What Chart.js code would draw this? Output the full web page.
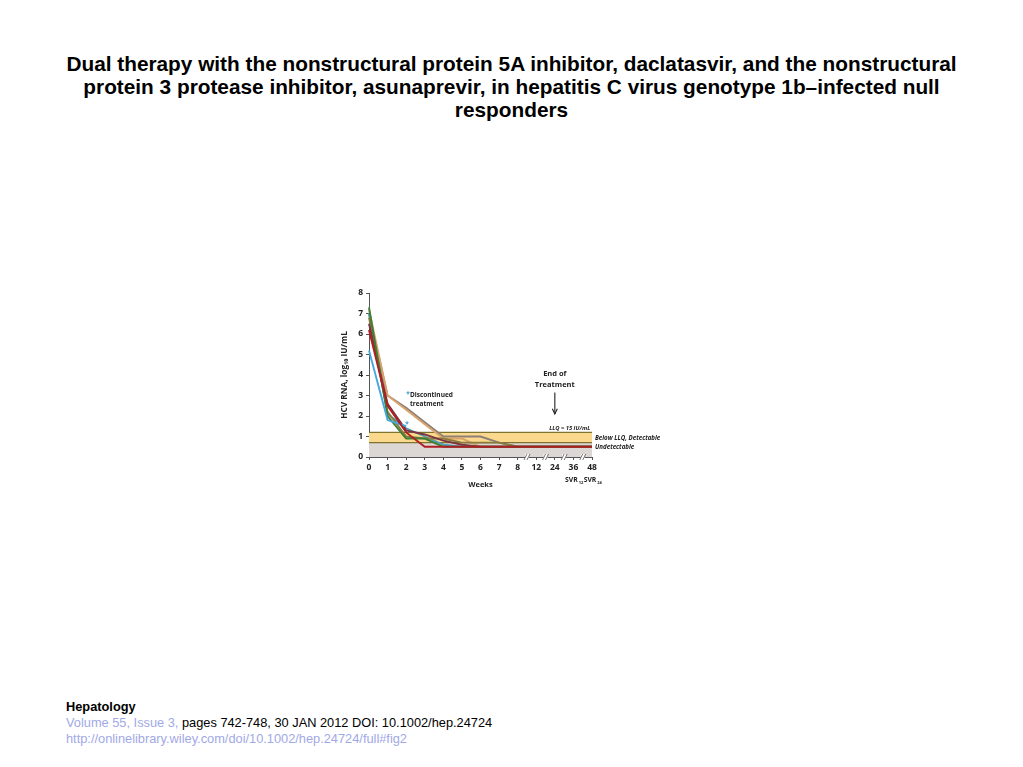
<!DOCTYPE html>
<html>
<head>
<meta charset="utf-8">
<script src="https://cdn.jsdelivr.net/npm/chart.js@4/dist/chart.umd.min.js"></script>
<style>
  body { margin: 0; width: 1023px; height: 767px; background: #fff; position: relative; font-family: "Liberation Sans", Arial, sans-serif; }
  .title { position: absolute; top: 52px; left: 0; width: 1023px; text-align: center; font-weight: bold; font-size: 20.8px; line-height: 23px; color: #000; }
  .chartbox { position: absolute; left: 340px; top: 283px; width: 325px; height: 210px; }
  .foot { position: absolute; left: 66px; top: 699px; font-size: 12.8px; line-height: 16px; color: #000; }
  .foot .j { font-weight: bold; }
  .foot .lnk { color: #9fa9e6; }
</style>
</head>
<body>
<div class="title">Dual therapy with the nonstructural protein 5A inhibitor, daclatasvir, and the nonstructural<br>protein 3 protease inhibitor, asunaprevir, in hepatitis C virus genotype 1b–infected null<br>responders</div>
<div class="chartbox"><canvas id="c" width="325" height="210"></canvas></div>
<div class="foot">
  <div class="j">Hepatology</div>
  <div><span class="lnk">Volume 55, Issue 3,</span> pages 742-748, 30 JAN 2012 DOI: 10.1002/hep.24724</div>
  <div class="lnk">http://onlinelibrary.wiley.com/doi/10.1002/hep.24724/full#fig2</div>
</div>
<script>
// week axis (uneven, drawn evenly spaced)
const weekLabels = ['0', '1', '2', '3', '4', '5', '6', '7', '8', '12', '24', '36', '48'];
const yTicks = [0, 1, 2, 3, 4, 5, 6, 7, 8];

// HCV RNA, log10 IU/mL per patient
const ptBlue   = [5.2, 1.8, 1.5, null, null, null, null, null, null, null, null, null, null];
const ptTan    = [7.2, 3.0, 2.3, 1.6, 0.9, 0.9, 0.5, 0.5, 0.5, 0.5, 0.5, 0.5, 0.5];
const ptGrey   = [7.0, 3.0, 2.4, 1.7, 1.0, 1.0, 1.0, 0.7, 0.5, 0.5, 0.5, 0.5, 0.5];
const ptTeal   = [7.0, 2.1, 1.4, 1.0, 0.6, 0.5, 0.5, 0.5, 0.5, 0.5, 0.5, 0.5, 0.5];
const ptOlive  = [6.8, 2.2, 1.0, 0.9, 0.9, 0.7, 0.7, 0.7, 0.5, 0.5, 0.5, 0.5, 0.5];
const ptMaroon = [6.5, 2.6, 1.3, 1.1, 0.8, 0.6, 0.5, 0.5, 0.5, 0.5, 0.5, 0.5, 0.5];
const ptGreen  = [7.3, 2.0, 0.9, 0.9, 0.5, 0.5, 0.5, 0.5, 0.5, 0.5, 0.5, 0.5, 0.5];
const ptRed    = [6.2, 2.5, 1.2, 0.5, 0.5, 0.5, 0.5, 0.5, 0.5, 0.5, 0.5, 0.5, 0.5];

const llq = 1.2;
const detectLow = 0.7;

const fnt = '"Open Sans", "Liberation Sans", sans-serif';

const bands = {
  id: 'bands',
  beforeDatasetsDraw(chart) {
    const { ctx, scales: { x, y } } = chart;
    const x0 = x.getPixelForValue(0), x1 = x.getPixelForValue(weekLabels.length - 1);
    ctx.save();
    ctx.fillStyle = '#fbd98c';
    ctx.fillRect(x0, y.getPixelForValue(llq), x1 - x0, y.getPixelForValue(detectLow) - y.getPixelForValue(llq));
    ctx.fillStyle = '#dcd6d4';
    ctx.fillRect(x0, y.getPixelForValue(detectLow), x1 - x0, y.getPixelForValue(0) - y.getPixelForValue(detectLow));
    ctx.strokeStyle = '#7f7332';
    ctx.lineWidth = 1.3;
    [llq, detectLow].forEach(v => {
      ctx.beginPath();
      ctx.moveTo(x0, y.getPixelForValue(v));
      ctx.lineTo(x1, y.getPixelForValue(v));
      ctx.stroke();
    });
    ctx.restore();
  },
  afterDraw(chart) {
    const { ctx, scales: { x, y } } = chart;
    ctx.save();
    // axis breaks
    ctx.strokeStyle = '#555';
    ctx.lineWidth = 0.8;
    [8.5, 9.5, 10.5, 11.5].forEach(i => {
      const px = x.getPixelForValue(i), py = y.getPixelForValue(0);
      ctx.fillStyle = '#fff';
      ctx.fillRect(px - 2, py - 3, 4, 6);
      [-1.5, 1.5].forEach(d => {
        ctx.beginPath();
        ctx.moveTo(px + d - 1.5, py + 3);
        ctx.lineTo(px + d + 1.5, py - 3);
        ctx.stroke();
      });
    });
    ctx.fillStyle = '#222';
    // end of treatment
    const ex = x.getPixelForValue(10);
    ctx.font = 'bold 7.5px ' + fnt;
    ctx.textAlign = 'center';
    ctx.fillText('End of', ex, y.getPixelForValue(3.95));
    ctx.fillText('Treatment', ex, y.getPixelForValue(3.4));
    ctx.strokeStyle = '#222';
    ctx.lineWidth = 1.1;
    ctx.beginPath();
    ctx.moveTo(ex, y.getPixelForValue(3.15));
    ctx.lineTo(ex, y.getPixelForValue(2.1));
    ctx.stroke();
    ctx.beginPath();
    ctx.moveTo(ex - 2.5, y.getPixelForValue(2.35));
    ctx.lineTo(ex, y.getPixelForValue(2.1));
    ctx.lineTo(ex + 2.5, y.getPixelForValue(2.35));
    ctx.stroke();
    // discontinued note
    ctx.textAlign = 'left';
    ctx.font = 'bold 6.5px ' + fnt;
    ctx.fillText('Discontinued', x.getPixelForValue(2.2), y.getPixelForValue(2.95));
    ctx.fillText('treatment', x.getPixelForValue(2.2), y.getPixelForValue(2.5));
    ctx.fillStyle = '#3a9bd5';
    ctx.fillText('*', x.getPixelForValue(2.0), y.getPixelForValue(3.0));
    ctx.fillText('*', x.getPixelForValue(2.0) - 1, y.getPixelForValue(1.5));
    // band labels
    ctx.fillStyle = '#222';
    ctx.font = 'italic bold 5.8px ' + fnt;
    ctx.textAlign = 'right';
    ctx.fillText('LLQ = 15 IU/mL', x.getPixelForValue(11.9), y.getPixelForValue(1.3));
    ctx.font = 'italic bold 6.2px ' + fnt;
    ctx.textAlign = 'left';
    const rx = x.getPixelForValue(12) + 3;
    ctx.fillText('Below LLQ, Detectable', rx, y.getPixelForValue(0.85));
    ctx.fillText('Undetectable', rx, y.getPixelForValue(0.4));
    // SVR labels
    ctx.textAlign = 'center';
    const sy = y.getPixelForValue(0) + 25;
    [[11, '12'], [12, '24']].forEach(([i, sub]) => {
      const px = x.getPixelForValue(i);
      ctx.font = 'bold 6.8px ' + fnt;
      ctx.fillText('SVR', px - 2, sy);
      ctx.font = 'bold 4px ' + fnt;
      ctx.fillText(sub, px + 7.5, sy + 1.5);
    });
    ctx.restore();
  }
};

const mk = (data, color) => ({
  data, borderColor: color, borderWidth: 1.9, pointRadius: 0, fill: false, tension: 0
});

const axisGrid = { display: true, drawOnChartArea: false, tickLength: 3, color: '#555' };

// first dataset is drawn on top
new Chart(document.getElementById('c'), {
  type: 'line',
  data: {
    labels: weekLabels,
    datasets: [
      mk(ptRed, '#b01e24'),
      mk(ptBlue, '#47a8dd'),
      mk(ptGreen, '#3d7f36'),
      mk(ptMaroon, '#7b3444'),
      mk(ptOlive, '#8a7c3c'),
      mk(ptTeal, '#4d9fb5'),
      mk(ptTan, '#dba36a'),
      mk(ptGrey, '#8c7f78')
    ]
  },
  plugins: [bands],
  options: {
    responsive: false,
    animation: false,
    layout: { padding: { top: 10, right: 73, left: 0, bottom: 0 } },
    plugins: { legend: { display: false }, tooltip: { enabled: false } },
    scales: {
      x: {
        type: 'category',
        offset: false,
        grid: axisGrid,
        border: { color: '#555', width: 1 },
        ticks: { color: '#222', font: { family: fnt, size: 8.5, weight: 'bold' }, padding: 2, maxRotation: 0, autoSkip: false },
        title: { display: true, text: 'Weeks', color: '#222', font: { family: fnt, size: 7.5, weight: 'bold' }, padding: { top: 2 } },
        afterFit(s) { s.height = 36; }
      },
      y: {
        min: 0, max: 8,
        afterBuildTicks(s) { s.ticks = yTicks.map(v => ({ value: v })); },
        grid: axisGrid,
        border: { color: '#555', width: 1 },
        ticks: { color: '#222', font: { family: fnt, size: 8.5, weight: 'bold' }, padding: 3 },
        title: { display: true, text: 'HCV RNA, log₁₀ IU/mL', color: '#222', font: { family: fnt, size: 8.3, weight: 'bold' }, padding: 0 },
        afterFit(s) { s.width = 29; }
      }
    }
  }
});
</script>
</body>
</html>
